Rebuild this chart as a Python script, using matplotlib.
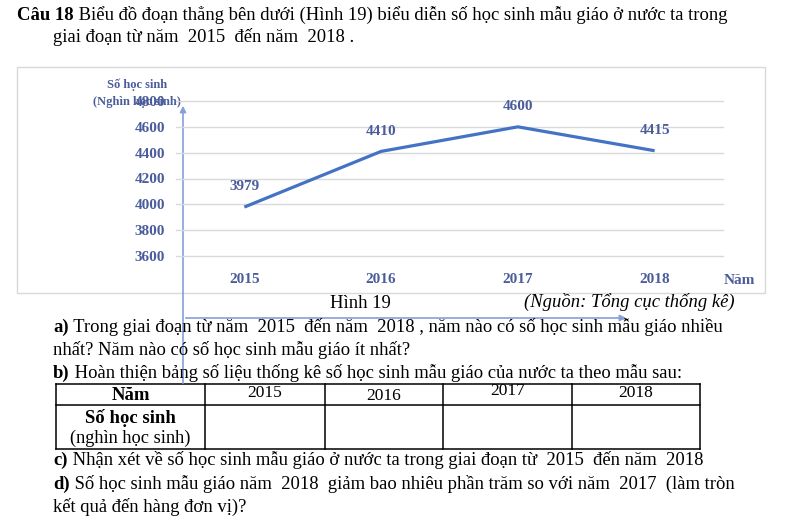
import matplotlib
matplotlib.use("Agg")
import matplotlib.pyplot as plt
from matplotlib.patches import Rectangle

years = ["2015", "2016", "2017", "2018"]
students = [3979, 4410, 4600, 4415]
yTicks = [3600, 3800, 4000, 4200, 4400, 4600, 4800]

SERIF = "Liberation Serif"
CHART_TXT = "#4B5C9B"
LINE_BLUE = "#4472C4"
ARROW_BLUE = "#86A0DA"
BODY = 13.4

fig = plt.figure(figsize=(7.85, 5.22), dpi=100)
# trục nền để đặt chữ theo toạ độ pixel
page = fig.add_axes([0, 0, 1, 1])
page.set_xlim(0, 785)
page.set_ylim(522, 0)
page.axis("off")
renderer = fig.canvas.get_renderer()

def WriteRuns(x, y, parts, size=BODY):
    # viết nối tiếp các đoạn chữ đậm/thường trên một dòng
    for s, weight, style in parts:
        t = page.text(x, y, s, fontsize=size, fontweight=weight, fontstyle=style,
                      family=SERIF, va="center", ha="left", color="black")
        x += t.get_window_extent(renderer).width

# khung biểu đồ
page.add_patch(Rectangle((17, 67), 748, 226, fill=False, edgecolor="#D9D9D9", lw=1))

# biểu đồ đoạn thẳng
left, right, top, bottom = 176, 723, 101, 256
ax = fig.add_axes([left / 785, 1 - bottom / 522, (right - left) / 785, (bottom - top) / 522])
ax.set_facecolor("none")
xs = range(len(years))
ax.plot(xs, students, color=LINE_BLUE, linewidth=2.3, solid_capstyle="butt")
for xv, v in zip(xs, students):
    ax.annotate(str(v), (xv, v), xytext=(0, 14.5), textcoords="offset points",
                ha="center", va="center", fontsize=11, fontweight="bold",
                family=SERIF, color=CHART_TXT)
ax.set_xlim(-0.5, 3.5)
ax.set_ylim(3600, 4800)
ax.set_yticks(yTicks)
ax.set_xticks(list(xs))
ax.set_xticklabels(years)
ax.grid(axis="y", color="#D9D9D9", linewidth=1)
for gl in ax.get_ygridlines():
    gl.set_clip_on(False)
ax.set_axisbelow(True)
for sp in ax.spines.values():
    sp.set_visible(False)
ax.tick_params(length=0)
ax.tick_params(axis="y", pad=8)
ax.tick_params(axis="x", pad=12)
for lab in ax.get_xticklabels() + ax.get_yticklabels():
    lab.set_fontfamily(SERIF)
    lab.set_fontweight("bold")
    lab.set_fontsize(11)
    lab.set_color(CHART_TXT)

page.text(137, 85, "Số học sinh", fontsize=9, fontweight="bold", family=SERIF,
          color=CHART_TXT, ha="center", va="center")
page.text(93, 102, "(Nghìn học sinh)", fontsize=9, fontweight="bold", family=SERIF,
          color=CHART_TXT, ha="left", va="center")
page.text(739, 280, "Năm", fontsize=11, fontweight="bold", family=SERIF,
          color=CHART_TXT, ha="center", va="center")

# hai mũi tên trục bị lệch trong bản gốc
page.annotate("", xy=(183, 103), xytext=(183, 386),
              arrowprops=dict(arrowstyle="-|>", color=ARROW_BLUE, lw=1.2, mutation_scale=9))
page.annotate("", xy=(629, 318), xytext=(183, 318),
              arrowprops=dict(arrowstyle="-|>", color=ARROW_BLUE, lw=1.2, mutation_scale=9))

# phần đề bài
WriteRuns(17, 15, [("Câu 18", "bold", "normal"),
                   (" Biểu đồ đoạn thẳng bên dưới (Hình 19) biểu diễn số học sinh mẫu giáo ở nước ta trong", "normal", "normal")])
WriteRuns(53, 37, [("giai đoạn từ năm  2015  đến năm  2018 .", "normal", "normal")])
page.text(360, 303, "Hình 19", fontsize=BODY, family=SERIF, ha="center", va="center")
page.text(735, 302, "(Nguồn: Tổng cục thống kê)", fontsize=BODY, family=SERIF,
          fontstyle="italic", ha="right", va="center")
WriteRuns(53, 327, [("a)", "bold", "normal"),
                    (" Trong giai đoạn từ năm  2015  đến năm  2018 , năm nào có số học sinh mẫu giáo nhiều", "normal", "normal")])
WriteRuns(53, 350, [("nhất? Năm nào có số học sinh mẫu giáo ít nhất?", "normal", "normal")])
WriteRuns(53, 373, [("b)", "bold", "normal"),
                    (" Hoàn thiện bảng số liệu thống kê số học sinh mẫu giáo của nước ta theo mẫu sau:", "normal", "normal")])

# bảng số liệu
colX = [56, 205, 325, 443, 572, 700]
rowY = [384, 405, 449]
for yv in rowY:
    page.plot([colX[0], colX[-1]], [yv, yv], color="black", lw=1.1)
for xv in colX:
    page.plot([xv, xv], [rowY[0], rowY[-1]], color="black", lw=1.1)
page.text((colX[0] + colX[1]) / 2, 395, "Năm", fontsize=13.5, fontweight="bold",
          family=SERIF, ha="center", va="center")
yearOffsets = [393, 396, 391, 393]
for i, yr in enumerate(years):
    page.text((colX[i + 1] + colX[i + 2]) / 2, yearOffsets[i], yr, fontsize=12.5,
              family=SERIF, ha="center", va="center")
page.text((colX[0] + colX[1]) / 2, 418, "Số học sinh", fontsize=13.5, fontweight="bold",
          family=SERIF, ha="center", va="center")
page.text((colX[0] + colX[1]) / 2, 438, "(nghìn học sinh)", fontsize=13.2,
          family=SERIF, ha="center", va="center")

WriteRuns(53, 460, [("c)", "bold", "normal"),
                    (" Nhận xét về số học sinh mẫu giáo ở nước ta trong giai đoạn từ  2015  đến năm  2018", "normal", "normal")])
WriteRuns(53, 484, [("d)", "bold", "normal"),
                    (" Số học sinh mẫu giáo năm  2018  giảm bao nhiêu phần trăm so với năm  2017  (làm tròn", "normal", "normal")])
WriteRuns(53, 507, [("kết quả đến hàng đơn vị)?", "normal", "normal")])

fig.savefig("out.png", dpi=100)
